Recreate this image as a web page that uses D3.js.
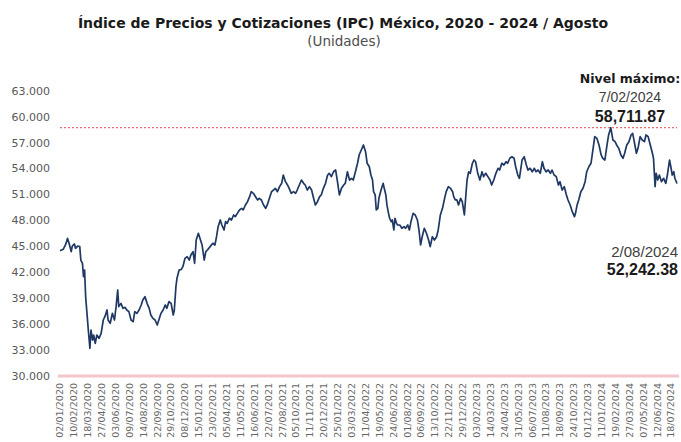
<!DOCTYPE html>
<html>
<head>
<meta charset="utf-8">
<script src="https://cdn.jsdelivr.net/npm/d3@7"></script>
<style>
  body { margin: 0; background: #fff; }
  svg { display: block; }
</style>
</head>
<body>
<svg width="681" height="442"></svg>
<script>
// trading-day index (0 = 02/01/2020) and closing value
const days = [0, 6, 11, 14, 17, 21, 23, 27, 29, 33, 37, 39, 42, 44, 46, 48, 51, 53, 56, 58,
    61, 63, 66, 69, 73, 77, 81, 84, 88, 90, 94, 98, 102, 105, 108, 110, 114, 118, 122, 125,
    129, 133, 137, 140, 144, 148, 152, 155, 159, 163, 167, 170, 174, 178, 182, 185, 189, 193, 197, 200,
    204, 208, 212, 214, 217, 219, 223, 227, 230, 234, 238, 242, 245, 249, 252, 255, 259, 263, 266, 270,
    273, 276, 281, 286, 290, 293, 296, 300, 303, 307, 310, 313, 317, 321, 325, 328, 332, 336, 340, 343,
    347, 351, 355, 358, 362, 366, 370, 373, 377, 381, 385, 388, 392, 396, 400, 403, 407, 411, 415, 418,
    422, 426, 429, 433, 437, 441, 444, 448, 452, 456, 459, 463, 467, 471, 474, 478, 482, 486, 489, 493,
    497, 501, 504, 508, 512, 516, 519, 523, 527, 531, 534, 538, 542, 546, 549, 553, 557, 560, 564, 568,
    572, 575, 579, 582, 585, 587, 590, 592, 595, 597, 601, 605, 607, 610, 612, 615, 617, 620, 622, 625,
    627, 630, 632, 636, 640, 644, 647, 651, 654, 657, 661, 665, 669, 672, 675, 678, 682, 686, 690, 693,
    697, 701, 705, 708, 712, 716, 720, 723, 727, 731, 735, 737, 740, 743, 746, 750, 753, 757, 760, 762,
    765, 768, 772, 775, 778, 782, 786, 790, 793, 797, 801, 805, 808, 812, 816, 820, 823, 827, 831, 835,
    838, 842, 846, 850, 853, 857, 860, 865, 869, 873, 876, 880, 884, 888, 891, 895, 899, 903, 906, 910,
    914, 918, 921, 925, 929, 933, 936, 940, 944, 948, 951, 955, 959, 963, 965, 968, 971, 975, 979, 983,
    986, 990, 994, 998, 1001, 1005, 1009, 1013, 1016, 1020, 1024, 1027, 1031, 1035, 1039, 1042, 1046, 1050, 1054, 1057,
    1061, 1065, 1069, 1072, 1075, 1079, 1082, 1086, 1090, 1094, 1097, 1101, 1105, 1109, 1111, 1114, 1116, 1119, 1122, 1126,
    1130, 1134, 1137, 1141, 1144, 1146, 1149, 1151, 1155];

const ipc = [44460, 44620, 45240, 45890, 45320, 44350, 45000, 45240, 44740, 45000, 44930, 43380, 43000, 41450, 42220, 39140, 36820, 35270, 33150, 35270,
    34110, 34690, 33730, 34690, 34310, 34890, 36430, 36820, 37590, 36430, 36050, 37200, 36430, 37980, 39910, 37980, 38360, 37780, 37900, 37590,
    37400, 36430, 36240, 37400, 37200, 37590, 38170, 38750, 39140, 38360, 37780, 37010, 36620, 36430, 35850, 36430, 37200, 37590, 38170, 37780,
    38560, 38360, 37010, 37590, 40290, 41260, 42220, 42300, 42610, 43580, 43770, 43380, 43960, 44350, 43000, 45700, 46470, 45700, 45120, 43380,
    44350, 44540, 44930, 45320, 45120, 46080, 47240, 48020, 47440, 46860, 47820, 47630, 48220, 48020, 48600, 48400, 48790, 49180, 49370, 49180,
    49760, 50140, 50720, 51300, 51110, 50720, 50340, 50530, 50340, 49760, 49370, 49760, 50530, 51300, 51490, 51690, 51300, 51880, 52270, 53230,
    52460, 52070, 51690, 51110, 51300, 51110, 51490, 52070, 52650, 52270, 52070, 51490, 51880, 51490, 50720, 49760, 50140, 50720, 50920, 51690,
    52270, 53230, 53430, 53040, 53610, 53810, 52650, 50920, 51690, 52070, 52270, 53610, 52650, 52850, 52650, 53610, 54590, 55550, 56130, 56710,
    55930, 54590, 54190, 53230, 52650, 51300, 50920, 49180, 49370, 50530, 51490, 52270, 51690, 50920, 49760, 48790, 48220, 47820, 48020, 46860,
    48220, 47630, 47440, 47440, 47060, 47240, 47060, 47440, 46860, 47820, 48790, 48600, 48020, 46860, 45120, 46080, 47060, 46480, 45700, 44930,
    46080, 45700, 46080, 46860, 48600, 49370, 50530, 51300, 51880, 51690, 51300, 50720, 50340, 50340, 49760, 50530, 50140, 48600, 51110, 52650,
    53610, 53430, 54590, 54970, 54770, 53430, 52650, 53610, 53040, 53430, 53040, 52650, 52070, 52650, 53430, 54010, 53810, 54590, 54390, 54770,
    54590, 55170, 55350, 55170, 54190, 53230, 52850, 54970, 55350, 54390, 53810, 54010, 53610, 54010, 53610, 53810, 53430, 54770, 54010, 53610,
    53810, 53430, 53810, 53230, 53040, 52070, 52460, 51490, 51880, 50920, 50340, 49760, 48980, 48400, 48790, 49760, 50340, 51300, 51690, 52460,
    53610, 54190, 54590, 56320, 57670, 57480, 56710, 55550, 55170, 54970, 56710, 57870, 58711.87, 57290, 57090, 56710, 56320, 55550, 55170, 55750,
    56710, 57090, 57870, 58060, 57090, 55750, 56320, 57670, 57290, 57090, 57870, 57670, 56710, 55750, 55170, 51880, 53430, 52650, 53230, 52460,
    52850, 52270, 53230, 54970, 54010, 53230, 53610, 52850, 52242.38];

// category labels, one every 26 trading days
const labelDates = ["02/01/2020", "10/02/2020", "18/03/2020", "27/04/2020", "03/06/2020", "09/07/2020",
    "14/08/2020", "22/09/2020", "29/10/2020", "08/12/2020", "15/01/2021", "23/02/2021", "05/04/2021",
    "11/05/2021", "16/06/2021", "22/07/2021", "27/08/2021", "05/10/2021", "11/11/2021", "20/12/2021",
    "25/01/2022", "03/03/2022", "11/04/2022", "19/05/2022", "24/06/2022", "01/08/2022", "06/09/2022",
    "13/10/2022", "22/11/2022", "29/12/2022", "03/02/2023", "14/03/2023", "24/04/2023", "31/05/2023",
    "06/07/2023", "11/08/2023", "18/09/2023", "24/10/2023", "01/12/2023", "11/01/2024", "19/02/2024",
    "27/03/2024", "07/05/2024", "12/06/2024", "18/07/2024"];
const labelStep = 26;
const lastDay = 1155;

const yTicks = [30000, 33000, 36000, 39000, 42000, 45000, 48000, 51000, 54000, 57000, 60000, 63000];

const maxDate = "7/02/2024", maxValue = 58711.87;
const lastDate = "2/08/2024", lastValue = 52242.38;

const svg = d3.select("svg");

const x = d3.scaleLinear().domain([0, lastDay]).range([60, 677]);
const y = d3.scaleLinear().domain([30000, 63000]).range([375.5, 90.7]);

const es = d3.formatLocale({decimal: ",", thousands: ".", grouping: [3], currency: ["", ""]});
const en = d3.formatLocale({decimal: ".", thousands: ",", grouping: [3], currency: ["", ""]});

// title
svg.append("text")
    .attr("x", 343).attr("y", 28)
    .attr("text-anchor", "middle")
    .attr("font-family", "DejaVu Sans")
    .attr("font-weight", "bold")
    .attr("font-size", 14)
    .attr("fill", "#1a1a1a")
    .text("Índice de Precios y Cotizaciones (IPC) México, 2020 - 2024 / Agosto");
svg.append("text")
    .attr("x", 344).attr("y", 46)
    .attr("text-anchor", "middle")
    .attr("font-family", "DejaVu Sans")
    .attr("font-size", 13.5)
    .attr("fill", "#4d4d4d")
    .text("(Unidades)");

// y axis (labels only)
const yAxis = svg.append("g")
    .attr("transform", "translate(50,0)")
    .call(d3.axisLeft(y).tickValues(yTicks).tickSize(0).tickPadding(0).tickFormat(es.format(",")));
yAxis.select(".domain").remove();
yAxis.selectAll("text")
    .attr("font-family", "DejaVu Sans")
    .attr("font-size", 11)
    .attr("fill", "#595959");

// base line
svg.append("line")
    .attr("x1", 58).attr("x2", 679)
    .attr("y1", y(30000) + 0.5).attr("y2", y(30000) + 0.5)
    .attr("stroke", "#f2c6cb")
    .attr("stroke-width", 3);

// x labels
const xLab = svg.append("g");
xLab.selectAll("text")
    .data(labelDates)
    .enter().append("text")
    .attr("transform", (d, i) => `translate(${x(i * labelStep)},383) rotate(-90)`)
    .attr("text-anchor", "end")
    .attr("dy", "0.35em")
    .attr("font-family", "DejaVu Sans")
    .attr("font-size", 9.5)
    .attr("fill", "#666")
    .text(d => d);

// max reference line
svg.append("line")
    .attr("x1", 60).attr("x2", 677)
    .attr("y1", y(maxValue)).attr("y2", y(maxValue))
    .attr("stroke", "#e0474c")
    .attr("stroke-width", 1)
    .attr("stroke-dasharray", "2,2");

// series
const pts = days.map((d, i) => [d, ipc[i]]);
svg.append("path")
    .datum(pts)
    .attr("fill", "none")
    .attr("stroke", "#1f3864")
    .attr("stroke-width", 1.7)
    .attr("stroke-linejoin", "round")
    .attr("d", d3.line().x(d => x(d[0])).y(d => y(d[1])));

// annotations
const ann = svg.append("g").attr("font-family", "Liberation Sans");
ann.append("text")
    .attr("x", 630).attr("y", 83)
    .attr("text-anchor", "middle")
    .attr("font-family", "DejaVu Sans")
    .attr("font-weight", "bold")
    .attr("font-size", 12.5)
    .attr("fill", "#1a1a1a")
    .text("Nivel máximo:");
ann.append("text")
    .attr("x", 630).attr("y", 102)
    .attr("text-anchor", "middle")
    .attr("font-size", 14)
    .attr("fill", "#404040")
    .text(maxDate);
ann.append("text")
    .attr("x", 630).attr("y", 122)
    .attr("text-anchor", "middle")
    .attr("font-weight", "bold")
    .attr("font-size", 16)
    .attr("fill", "#1a1a1a")
    .text(en.format(",.2f")(maxValue));
ann.append("text")
    .attr("x", 678).attr("y", 257)
    .attr("text-anchor", "end")
    .attr("font-size", 15)
    .attr("fill", "#404040")
    .text(lastDate);
ann.append("text")
    .attr("x", 678).attr("y", 275)
    .attr("text-anchor", "end")
    .attr("font-weight", "bold")
    .attr("font-size", 16)
    .attr("fill", "#1a1a1a")
    .text(en.format(",.2f")(lastValue));
</script>
</body>
</html>
